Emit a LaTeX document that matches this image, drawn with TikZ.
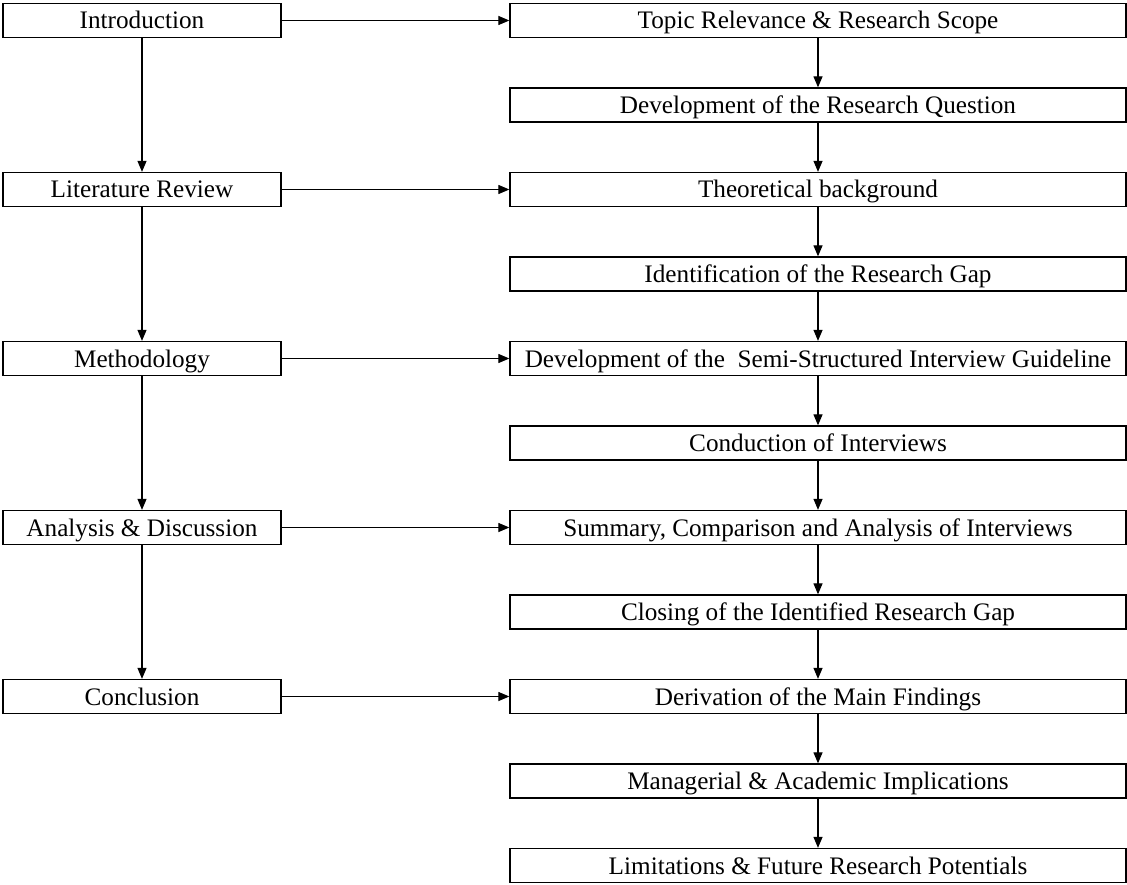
\documentclass[tikz,border=0pt]{standalone}
\usepackage{fontspec}
\setmainfont{Liberation Serif}
\usetikzlibrary{arrows.meta}
\begin{document}
\begin{tikzpicture}[x=1pt,y=-1pt,
  box/.style={draw, line width=1.3pt, inner sep=0pt, text height=17pt, text depth=0pt, font=\fontsize{25.2}{28}\selectfont},
  lbox/.style={box, minimum width=278pt, minimum height=34pt},
  rbox/.style={box, minimum width=616pt, minimum height=34pt},
  arr/.style={line width=1.2pt, -{Triangle[length=11pt,width=9pt]}}]
\useasboundingbox (0,0) rectangle (1127,885);
\node[lbox] (L1) at (142,20.5) {Introduction};
\node[lbox] (L2) at (142,189.5) {Literature Review};
\node[lbox] (L3) at (142,358.5) {Methodology};
\node[lbox] (L4) at (142,527.5) {Analysis \& Discussion};
\node[lbox] (L5) at (142,696.5) {Conclusion};
\node[rbox] (R1) at (818,20.5) {Topic Relevance \& Research Scope};
\node[rbox] (R2) at (818,105) {Development of the Research Question};
\node[rbox] (R3) at (818,189.5) {Theoretical background};
\node[rbox] (R4) at (818,274) {Identification of the Research Gap};
\node[rbox] (R5) at (818,358.5) {Development of the\ \ Semi-Structured Interview Guideline};
\node[rbox] (R6) at (818,443) {Conduction of Interviews};
\node[rbox] (R7) at (818,527.5) {Summary, Comparison and Analysis of Interviews};
\node[rbox] (R8) at (818,612) {Closing of the Identified Research Gap};
\node[rbox] (R9) at (818,696.5) {Derivation of the Main Findings};
\node[rbox] (R10) at (818,781) {Managerial \& Academic Implications};
\node[rbox] (R11) at (818,865.5) {Limitations \& Future Research Potentials};
\foreach \a/\b in {L1/L2,L2/L3,L3/L4,L4/L5,R1/R2,R2/R3,R3/R4,R4/R5,R5/R6,R6/R7,R7/R8,R8/R9,R9/R10,R10/R11}
  \draw[arr] (\a.south) -- (\b.north);
\foreach \a/\b in {L1/R1,L2/R3,L3/R5,L4/R7,L5/R9}
  \draw[arr] (\a.east) -- (\b.west);
\end{tikzpicture}
\end{document}
